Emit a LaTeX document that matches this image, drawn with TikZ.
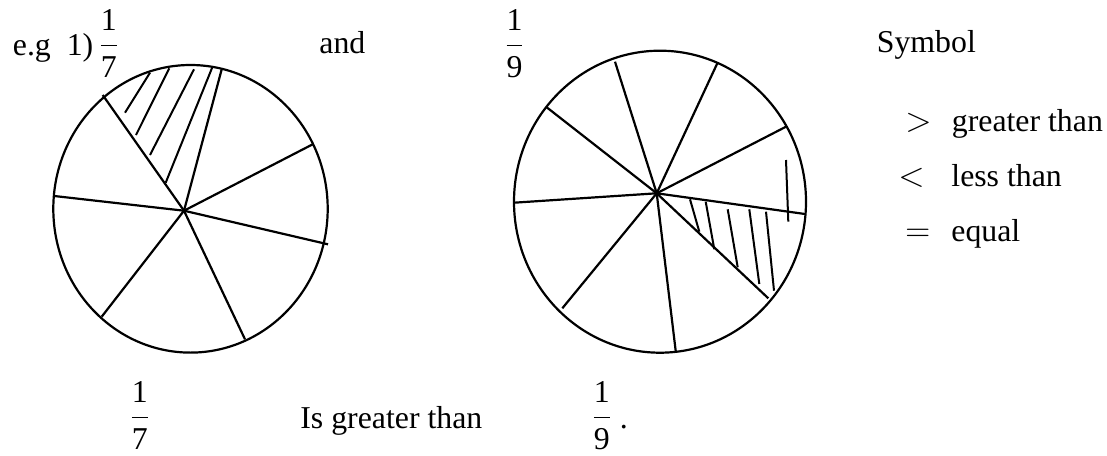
\documentclass[tikz,border=0pt]{standalone}
\usepackage{amsmath}
\usepackage{fontspec}
\setmainfont{Liberation Serif}

\tikzset{
    pie/.style={line width=1.1pt},
    hatch/.style={line width=1pt},
    txt/.style={inner sep=0pt, anchor=base west},
    frac/.style={inner sep=0pt, anchor=base}
}
\newcommand{\fr}[2]{$\dfrac{\text{#1}}{\text{#2}}$}

\begin{document}
\begin{tikzpicture}[x=0.5pt, y=-0.5pt, font=\fontsize{15.9}{19}\selectfont]
    \useasboundingbox (0,0) rectangle (1107,455);

    % first circle: seven parts
    \coordinate (c7) at (184,210.7);
    \draw[pie] (190.5,208.8) ellipse [x radius=137.2, y radius=143.8];
    \draw[pie] (c7) -- (102.7,95);
    \draw[pie] (c7) -- (221.7,69.3);
    \draw[pie] (c7) -- (312.7,144.3);
    \draw[pie] (c7) -- (328,244.3);
    \draw[pie] (c7) -- (245,339.3);
    \draw[pie] (c7) -- (101.7,316.7);
    \draw[pie] (c7) -- (54.3,196);

    \draw[hatch] (150,72.7) -- (125,112.7);
    \draw[hatch] (169.3,68.3) -- (136,135);
    \draw[hatch] (194,69.3) -- (150,155);
    \draw[hatch] (212.3,67.3) -- (165.7,182.7);

    % second circle: nine parts
    \coordinate (c9) at (656.7,193.3);
    \draw[pie] (660,201.7) ellipse [x radius=146, y radius=151];
    \draw[pie] (c9) -- (615,61.7);
    \draw[pie] (c9) -- (717.3,63.3);
    \draw[pie] (c9) -- (786,126.7);
    \draw[pie] (c9) -- (805,214);
    \draw[pie] (c9) -- (768.3,298.3);
    \draw[pie] (c9) -- (675.7,351);
    \draw[pie] (c9) -- (562.3,308.3);
    \draw[pie] (c9) -- (514,202.7);
    \draw[pie] (c9) -- (546.7,107.3);

    \draw[hatch] (690,199.3) -- (699.3,231.7);
    \draw[hatch] (705.7,201.7) -- (714.3,249.3);
    \draw[hatch] (727.7,209.3) -- (737.7,267.3);
    \draw[hatch] (749.3,209.3) -- (759.3,284);
    \draw[hatch] (766,211.7) -- (774,290.7);
    \draw[hatch] (786,160) -- (788.3,221.7);

    % top line
    \node[txt] (eg) at (12.5,55) {e.g~~1)};
    \node[frac] (f7) at (108.8,54) {\fr{1}{7}};
    \node[txt] (and) at (319,53.5) {and};
    \node[frac] (f9) at (514.5,54) {\fr{1}{9}};
    \node[txt] (sym) at (876.5,52) {Symbol};

    % symbols
    \node[txt] (gt) at (905,131.7) {$>$};
    \node[txt] (gtt) at (951.5,131.7) {greater than};
    \node[txt] (lt) at (898,186.7) {$<$};
    \node[txt] (ltt) at (951,186.7) {less than};
    \node[txt] (eq) at (905,241.7) {$=$};
    \node[txt] (eqt) at (951,241.7) {equal};

    % bottom line
    \node[frac] (b7) at (139.7,426) {\fr{1}{7}};
    \node[txt] (isg) at (300,428.3) {Is greater than};
    \node[frac] (b9) at (601.7,426) {\fr{1}{9}};
    \node[txt] (dot) at (619.5,428.5) {.};
\end{tikzpicture}
\end{document}
